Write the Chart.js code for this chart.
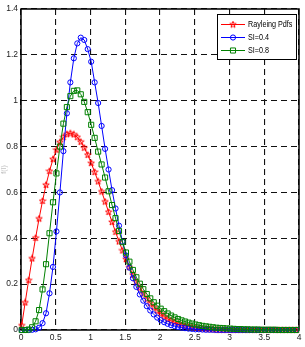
<!DOCTYPE html>
<html>
<head>
<meta charset="utf-8">
<script src="https://cdn.jsdelivr.net/npm/chart.js@4.4.0/dist/chart.umd.min.js"></script>
<style>
  body { margin: 0; background: #fff; }
  canvas { display: block; }
</style>
</head>
<body>
<canvas id="pdfChart" width="305" height="347"></canvas>
<script>
// data (x grid 0.01 : 0.05 : 3.96)
const xs = [
  0.01, 0.06, 0.11, 0.16, 0.21, 0.26, 0.31, 0.36, 0.41, 0.46,
  0.51, 0.56, 0.61, 0.66, 0.71, 0.76, 0.81, 0.86, 0.91, 0.96,
  1.01, 1.06, 1.11, 1.16, 1.21, 1.26, 1.31, 1.36, 1.41, 1.46,
  1.51, 1.56, 1.61, 1.66, 1.71, 1.76, 1.81, 1.86, 1.91, 1.96,
  2.01, 2.06, 2.11, 2.16, 2.21, 2.26, 2.31, 2.36, 2.41, 2.46,
  2.51, 2.56, 2.61, 2.66, 2.71, 2.76, 2.81, 2.86, 2.91, 2.96,
  3.01, 3.06, 3.11, 3.16, 3.21, 3.26, 3.31, 3.36, 3.41, 3.46,
  3.51, 3.56, 3.61, 3.66, 3.71, 3.76, 3.81, 3.86, 3.91, 3.96
];

const rayleigh = [
  0.020, 0.120, 0.217, 0.312, 0.402, 0.486, 0.563, 0.633, 0.693, 0.745,
  0.786, 0.819, 0.841, 0.854, 0.858, 0.853, 0.841, 0.821, 0.795, 0.764,
  0.728, 0.689, 0.648, 0.604, 0.560, 0.515, 0.471, 0.428, 0.386, 0.347,
  0.309, 0.274, 0.241, 0.211, 0.184, 0.159, 0.137, 0.117, 0.100, 0.084,
  0.071, 0.059, 0.049, 0.041, 0.034, 0.027, 0.022, 0.018, 0.015, 0.012,
  0.009, 0.007, 0.006, 0.005, 0.004, 0.003, 0.002, 0.002, 0.001, 0.001,
  0.001, 0.001, 0, 0, 0, 0, 0, 0, 0, 0,
  0, 0, 0, 0, 0, 0, 0, 0, 0, 0
];

const si04 = [
  0, 0, 0, 0.001, 0.003, 0.010, 0.030, 0.073, 0.160, 0.275,
  0.430, 0.600, 0.780, 0.945, 1.080, 1.185, 1.250, 1.275, 1.265, 1.225,
  1.170, 1.080, 0.990, 0.890, 0.790, 0.700, 0.610, 0.530, 0.455, 0.385,
  0.325, 0.272, 0.226, 0.188, 0.155, 0.128, 0.104, 0.085, 0.068, 0.054,
  0.043, 0.034, 0.027, 0.021, 0.017, 0.013, 0.010, 0.008, 0.006, 0.005,
  0.003, 0.003, 0.002, 0.001, 0.001, 0.001, 0, 0, 0, 0,
  0, 0, 0, 0, 0, 0, 0, 0, 0, 0,
  0, 0, 0, 0, 0, 0, 0, 0, 0, 0
];

const si08 = [
  0, 0, 0.002, 0.012, 0.038, 0.087, 0.177, 0.287, 0.422, 0.557,
  0.683, 0.800, 0.900, 0.972, 1.020, 1.043, 1.045, 1.028, 0.995, 0.950,
  0.895, 0.838, 0.778, 0.722, 0.665, 0.605, 0.545, 0.488, 0.432, 0.383,
  0.338, 0.298, 0.262, 0.230, 0.202, 0.178, 0.157, 0.138, 0.121, 0.106,
  0.093, 0.082, 0.072, 0.063, 0.055, 0.048, 0.042, 0.037, 0.032, 0.028,
  0.024, 0.021, 0.018, 0.016, 0.014, 0.012, 0.010, 0.009, 0.008, 0.007,
  0.006, 0.005, 0.004, 0.004, 0.003, 0.003, 0.002, 0.002, 0.002, 0.001,
  0.001, 0.001, 0.001, 0.001, 0, 0, 0, 0, 0, 0
];

const seriesNames = ['Rayleing Pdfs', 'SI=0.4', 'SI=0.8'];
const xRange = [0, 4];
const yRange = [0, 1.4];
const yTitle = 'f(I)';

const FONT = '"Liberation Sans", Arial, sans-serif';

// matlab-like pentagram marker
function makeStar(color) {
  const c = document.createElement('canvas');
  c.width = 8; c.height = 8;
  const g = c.getContext('2d');
  g.strokeStyle = color;
  g.lineWidth = 1;
  g.beginPath();
  for (let i = 0; i < 10; i++) {
    const r = i % 2 === 0 ? 3.4 : 1.4;
    const a = -Math.PI / 2 + i * Math.PI / 5;
    const px = 4 + r * Math.cos(a), py = 4.2 + r * Math.sin(a);
    if (i === 0) g.moveTo(px, py); else g.lineTo(px, py);
  }
  g.closePath();
  g.stroke();
  return c;
}

function toPoints(vals) {
  return vals.map((v, i) => ({ x: xs[i], y: v }));
}

// matlab style tick text: 0, 0.5, 1 ...
function tickText(v) {
  return String(Math.round(v * 10) / 10);
}

const starImg = makeStar('#ff0000');

const datasets = [
  {
    label: seriesNames[0], data: toPoints(rayleigh),
    borderColor: '#ff0000', pointStyle: starImg, pointRadius: 4,
    pointBorderColor: '#ff0000', order: 2
  },
  {
    label: seriesNames[1], data: toPoints(si04),
    borderColor: '#0000ff', pointStyle: 'circle', pointRadius: 2.6,
    pointBorderColor: '#0000ff', order: 1
  },
  {
    label: seriesNames[2], data: toPoints(si08),
    borderColor: '#008000', pointStyle: 'rect', pointRadius: 3.6,
    pointBorderColor: '#008000', order: 0
  }
];
datasets.forEach(d => {
  d.borderWidth = 1;
  d.pointBorderWidth = 1;
  d.pointBackgroundColor = 'rgba(0,0,0,0)';
  d.tension = 0;
  d.clip = false;
});

// box frame + legend inside the axes
const extras = {
  id: 'extras',
  beforeDatasetsDraw(chart) {
    const a = chart.chartArea, c = chart.ctx;
    c.save();
    c.strokeStyle = '#000';
    c.lineWidth = 1.5;
    c.strokeRect(a.left, a.top, a.right - a.left, a.bottom - a.top);
    c.restore();
  },
  afterDraw(chart) {
    const c = chart.ctx;
    const bx = 217, by = 14, bw = 79, bh = 45;
    c.save();
    c.fillStyle = '#fff';
    c.fillRect(bx, by, bw, bh);
    c.strokeStyle = '#000';
    c.lineWidth = 1;
    c.strokeRect(bx + 0.5, by + 0.5, bw, bh);
    const rows = [24.5, 37.5, 50.5];
    datasets.forEach((d, i) => {
      const y = rows[i];
      c.strokeStyle = d.borderColor;
      c.lineWidth = 1;
      c.beginPath();
      c.moveTo(221, y);
      c.lineTo(245, y);
      c.stroke();
      c.fillStyle = 'rgba(0,0,0,0)';
      Chart.helpers.drawPoint(c, {
        pointStyle: d.pointStyle, radius: d.pointRadius,
        rotation: 0, borderWidth: 1
      }, 233, y);
      // squeeze the text a bit, the original font is narrow
      c.save();
      c.translate(248, y + 0.5);
      c.scale(0.8, 1);
      c.fillStyle = '#000';
      c.font = '9px ' + FONT;
      c.textBaseline = 'middle';
      c.textAlign = 'left';
      c.fillText(d.label, 0, 0);
      c.restore();
    });
    c.restore();
  }
};

var ctx = document.getElementById('pdfChart').getContext('2d');
var chart = new Chart(ctx, {
  type: 'line',
  data: { datasets: datasets },
  plugins: [extras],
  options: {
    responsive: false,
    animation: false,
    events: [],
    layout: { padding: { top: 9, right: 6, left: 0, bottom: 0 } },
    plugins: {
      legend: { display: false },
      tooltip: { enabled: false }
    },
    scales: {
      x: {
        type: 'linear',
        min: xRange[0], max: xRange[1],
        afterFit: s => { s.height = 17; },
        ticks: { stepSize: 0.5, color: '#222', padding: 3, maxRotation: 0,
                 callback: tickText,
                 font: { family: FONT, size: 8.5 } },
        grid: { color: '#111', lineWidth: 1.1, drawTicks: false },
        border: { display: false, dash: [6, 4] }
      },
      y: {
        type: 'linear',
        min: yRange[0], max: yRange[1],
        afterFit: s => { s.width = 21; },
        ticks: { stepSize: 0.2, color: '#222', padding: 3,
                 callback: tickText,
                 font: { family: FONT, size: 8.5 } },
        grid: { color: '#111', lineWidth: 1.1, drawTicks: false },
        border: { display: false, dash: [6, 4] },
        title: { display: true, text: yTitle, color: '#bbb', padding: 0,
                 font: { family: FONT, size: 7 } }
      }
    }
  }
});
</script>
</body>
</html>
